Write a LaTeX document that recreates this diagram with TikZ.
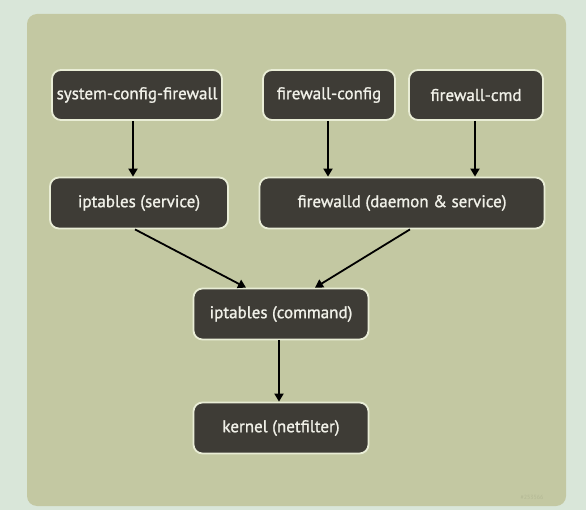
\documentclass[tikz,border=0pt]{standalone}
\usepackage{fontspec}
\setmainfont{PT Sans}
\newfontfamily\boxfont[FakeBold=1.2]{PT Sans}
\usetikzlibrary{arrows.meta}
\definecolor{outerbg}{HTML}{D9E6D9}
\definecolor{panel}{HTML}{C3C8A2}
\definecolor{boxfill}{HTML}{3E3C36}
\definecolor{boxline}{HTML}{E9EDD6}
\definecolor{boxtext}{HTML}{F0F0E8}
\definecolor{wm}{HTML}{B3B894}
\tikzset{
  box/.style={draw=boxline, line width=1.8pt, fill=boxfill, rounded corners=9pt,
    text=boxtext, font=\boxfont\fontsize{17}{19}\selectfont, inner sep=0pt, anchor=center},
  conn/.style={-{Triangle[length=8pt,width=9pt]}, line width=1.8pt, black}
}
\begin{document}
\begin{tikzpicture}[x=1pt,y=-1pt]
\useasboundingbox (0,0) rectangle (586,510);
\fill[outerbg] (0,0) rectangle (586,510);
\fill[panel, rounded corners=10pt] (27,14) rectangle (566,506);
\node[box, minimum width=170pt, minimum height=50pt] (scf) at (137,95) {system-config-firewall};
\node[box, minimum width=132pt, minimum height=50pt] (fc) at (329,95) {firewall-config};
\node[box, minimum width=134pt, minimum height=50pt] (fcmd) at (476,95) {firewall-cmd};
\node[box, minimum width=178pt, minimum height=51pt] (ips) at (139,203) {iptables (service)};
\node[box, minimum width=285pt, minimum height=51pt] (fwd) at (402,203) {firewalld (daemon \& service)};
\node[box, minimum width=175pt, minimum height=51pt] (ipc) at (281,314) {iptables (command)};
\node[box, minimum width=175pt, minimum height=51pt] (kern) at (281,428) {kernel (netfilter)};
\node[text=wm, font=\fontsize{6}{7}\selectfont, anchor=east] (mark) at (547,497) {\#253566};
\draw[conn] (scf.south -| 133,0) -- (ips.north -| 133,0);
\draw[conn] (fc.south -| 328,0) -- (fwd.north -| 328,0);
\draw[conn] (fcmd.south -| 475,0) -- (fwd.north -| 475,0);
\draw[conn] (ips.south -| 135,0) -- (ipc.north -| 246,0);
\draw[conn] (fwd.south -| 410,0) -- (ipc.north -| 315,0);
\draw[conn] (ipc.south -| 279,0) -- (kern.north -| 279,0);
\end{tikzpicture}
\end{document}
